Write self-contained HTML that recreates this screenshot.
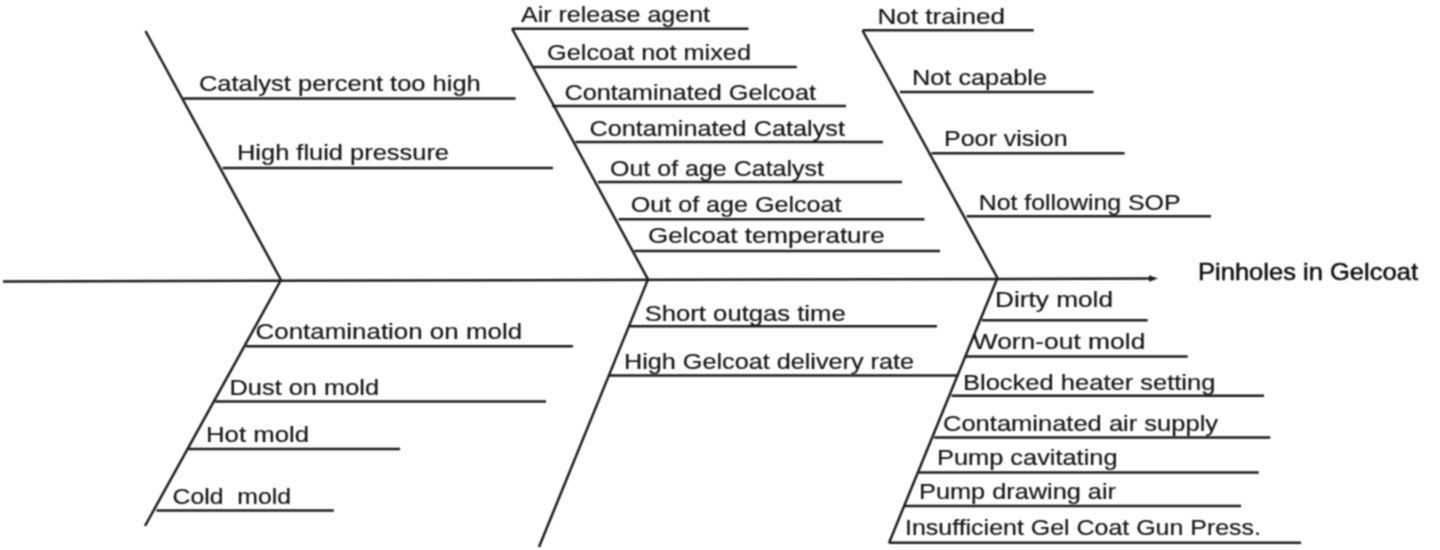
<!DOCTYPE html><html><head><meta charset="utf-8"><style>html,body{margin:0;padding:0;background:#fff;}body{width:1440px;height:550px;overflow:hidden;}svg{display:block;}</style></head><body>
<svg width="1440" height="550" viewBox="0 0 1440 550">
<defs><filter id="bl" color-interpolation-filters="sRGB" x="-5%" y="-5%" width="110%" height="110%"><feConvolveMatrix order="3" kernelMatrix="1 2 1 2 4 2 1 2 1" divisor="16" edgeMode="none"/></filter></defs><g filter="url(#bl)"><rect x="-10" y="-10" width="1460" height="570" fill="#fff"/>
<g stroke="#1e1e1e" stroke-width="2.5" fill="none" stroke-linecap="butt">
<line x1="3" y1="281.4" x2="1150" y2="278.6"/>
<line x1="145.5" y1="31" x2="281" y2="280"/>
<line x1="281" y1="280" x2="145" y2="526"/>
<line x1="512" y1="28.5" x2="648" y2="279.4"/>
<line x1="648" y1="279.4" x2="539" y2="547"/>
<line x1="862.5" y1="30.5" x2="998" y2="279"/>
<line x1="997" y1="279" x2="889" y2="543"/>
<line x1="183.6" y1="98.6" x2="515.6" y2="98.6"/>
<line x1="222.5" y1="168" x2="553" y2="168"/>
<line x1="512" y1="28.7" x2="748.5" y2="28.7"/>
<line x1="534" y1="66.9" x2="796.8" y2="66.9"/>
<line x1="552" y1="106" x2="846" y2="106"/>
<line x1="575.5" y1="142" x2="883" y2="142"/>
<line x1="598" y1="182" x2="902" y2="182"/>
<line x1="618.7" y1="219.2" x2="924.4" y2="219.2"/>
<line x1="634.3" y1="251" x2="940" y2="251"/>
<line x1="862.5" y1="30.3" x2="1033.75" y2="30.3"/>
<line x1="900" y1="92.0" x2="1093.5" y2="92.0"/>
<line x1="931.5" y1="153.3" x2="1124.6" y2="153.3"/>
<line x1="966.7" y1="216.2" x2="1211" y2="216.2"/>
<line x1="245.8" y1="346.3" x2="573" y2="346.3"/>
<line x1="215.3" y1="401.5" x2="546" y2="401.5"/>
<line x1="188.4" y1="449" x2="400" y2="449"/>
<line x1="156.5" y1="510.4" x2="333.8" y2="510.4"/>
<line x1="629.4" y1="326.2" x2="937" y2="326.2"/>
<line x1="609" y1="375.5" x2="957.7" y2="375.5"/>
<line x1="982" y1="320.2" x2="1147.7" y2="320.2"/>
<line x1="966" y1="356.6" x2="1187.7" y2="356.6"/>
<line x1="951.5" y1="395.8" x2="1264" y2="395.8"/>
<line x1="934.2" y1="437.4" x2="1270.3" y2="437.4"/>
<line x1="919" y1="472.5" x2="1258.7" y2="472.5"/>
<line x1="905" y1="506" x2="1241" y2="506"/>
<line x1="889" y1="542.8" x2="1301" y2="542.8"/>
</g>
<path d="M1149 275.2 L1158 278.5 L1149 281.8 Z" fill="#1e1e1e"/>
<g font-family="Liberation Sans, sans-serif" font-size="22" fill="#161616" stroke="#161616" stroke-width="0.2">
<text x="198.90" y="91.1" textLength="281.87" lengthAdjust="spacingAndGlyphs" xml:space="preserve">Catalyst percent too high</text>
<text x="237.00" y="159.7" textLength="212.03" lengthAdjust="spacingAndGlyphs" xml:space="preserve">High fluid pressure</text>
<text x="521.00" y="22.2" textLength="189.03" lengthAdjust="spacingAndGlyphs" xml:space="preserve">Air release agent</text>
<text x="547.00" y="60.4" textLength="204.02" lengthAdjust="spacingAndGlyphs" xml:space="preserve">Gelcoat not mixed</text>
<text x="564.40" y="99.5" textLength="251.61" lengthAdjust="spacingAndGlyphs" xml:space="preserve">Contaminated Gelcoat</text>
<text x="589.40" y="136.3" textLength="255.56" lengthAdjust="spacingAndGlyphs" xml:space="preserve">Contaminated Catalyst</text>
<text x="610.00" y="176" textLength="214.03" lengthAdjust="spacingAndGlyphs" xml:space="preserve">Out of age Catalyst</text>
<text x="630.80" y="212" textLength="210.67" lengthAdjust="spacingAndGlyphs" xml:space="preserve">Out of age Gelcoat</text>
<text x="648.00" y="243" textLength="236.64" lengthAdjust="spacingAndGlyphs" xml:space="preserve">Gelcoat temperature</text>
<text x="877.50" y="23.75" textLength="127.52" lengthAdjust="spacingAndGlyphs" xml:space="preserve">Not trained</text>
<text x="912.00" y="85.2" textLength="135.02" lengthAdjust="spacingAndGlyphs" xml:space="preserve">Not capable</text>
<text x="944.00" y="146" textLength="123.64" lengthAdjust="spacingAndGlyphs" xml:space="preserve">Poor vision</text>
<text x="978.70" y="209.5" textLength="201.83" lengthAdjust="spacingAndGlyphs" xml:space="preserve">Not following SOP</text>
<text x="255.60" y="339.3" textLength="266.46" lengthAdjust="spacingAndGlyphs" xml:space="preserve">Contamination on mold</text>
<text x="229.50" y="395" textLength="149.52" lengthAdjust="spacingAndGlyphs" xml:space="preserve">Dust on mold</text>
<text x="206.00" y="441.9" textLength="103.04" lengthAdjust="spacingAndGlyphs" xml:space="preserve">Hot mold</text>
<text x="172.60" y="504" textLength="118.35" lengthAdjust="spacingAndGlyphs" xml:space="preserve">Cold  mold</text>
<text x="644.70" y="320.5" textLength="201.03" lengthAdjust="spacingAndGlyphs" xml:space="preserve">Short outgas time</text>
<text x="624.00" y="368.8" textLength="290.03" lengthAdjust="spacingAndGlyphs" xml:space="preserve">High Gelcoat delivery rate</text>
<text x="995.00" y="306.5" textLength="118.01" lengthAdjust="spacingAndGlyphs" xml:space="preserve">Dirty mold</text>
<text x="972.70" y="348.7" textLength="172.67" lengthAdjust="spacingAndGlyphs" xml:space="preserve">Worn-out mold</text>
<text x="963.00" y="389.6" textLength="252.40" lengthAdjust="spacingAndGlyphs" xml:space="preserve">Blocked heater setting</text>
<text x="943.00" y="431.3" textLength="275.06" lengthAdjust="spacingAndGlyphs" xml:space="preserve">Contaminated air supply</text>
<text x="937.00" y="464.9" textLength="180.53" lengthAdjust="spacingAndGlyphs" xml:space="preserve">Pump cavitating</text>
<text x="919.00" y="499.4" textLength="196.99" lengthAdjust="spacingAndGlyphs" xml:space="preserve">Pump drawing air</text>
<text x="905.00" y="535" textLength="355.96" lengthAdjust="spacingAndGlyphs" xml:space="preserve">Insufficient Gel Coat Gun Press.</text>
</g>
<text x="1198.00" y="280" font-family="Liberation Sans, sans-serif" font-size="24" fill="#111" stroke="#111" stroke-width="0.5" textLength="220.00" lengthAdjust="spacingAndGlyphs">Pinholes in Gelcoat</text>
</g></svg></body></html>
